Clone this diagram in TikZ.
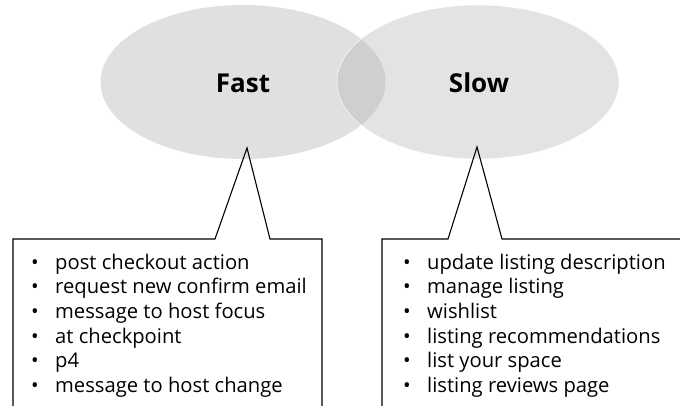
\documentclass[tikz,border=0pt]{standalone}
\usepackage{fontspec}
\setmainfont{Open Sans}
\definecolor{ellA}{HTML}{E0E0E0}
\definecolor{ellB}{HTML}{E3E2E4}
\definecolor{ellC}{HTML}{D0CED0}
\begin{document}
\begin{tikzpicture}[x=1pt,y=-1pt,
  vennlabel/.style={font=\fontsize{26}{30}\selectfont\bfseries, inner sep=0pt},
  listtext/.style={font=\fontsize{20.2}{24.7}\selectfont, align=left, inner sep=0pt, anchor=north west},
  callout/.style={draw=black, line width=1.1pt, line join=miter}]
\useasboundingbox (0,0) rectangle (680,405);
\begin{scope}
\clip (0,0) rectangle (680,405);
% ellipses
\fill[ellA] (243,82) ellipse [x radius=142.5, y radius=77];
\fill[ellB] (478,82) ellipse [x radius=141, y radius=77];
\begin{scope}
\clip (243,82) ellipse [x radius=142.5, y radius=77];
\fill[ellC] (478,82) ellipse [x radius=141, y radius=77];
\end{scope}
\draw[white, line width=0.5pt] (478,82) ellipse [x radius=141, y radius=77];
\node[vennlabel] (fast) at (243,83) {Fast};
\node[vennlabel] (slow) at (479,83) {Slow};
% callouts
\coordinate (ltip) at (247,148);
\coordinate (rtip) at (477,147);
\draw[callout] (13,420) -- (13,239) -- (215,239) -- (ltip) -- (270,239) -- (322,239) -- (322,420);
\draw[callout] (382,420) -- (382,239) -- (448,239) -- (rtip) -- (502,239) -- (700,239);
\node[listtext] (fastlist) at (31,253.5) {%
\makebox[24pt][l]{•}post checkout action\\
\makebox[24pt][l]{•}request new confirm email\\
\makebox[24pt][l]{•}message to host focus\\
\makebox[24pt][l]{•}at checkpoint\\
\makebox[24pt][l]{•}p4\\
\makebox[24pt][l]{•}message to host change};
\node[listtext] (slowlist) at (403,253.5) {%
\makebox[24pt][l]{•}update listing description\\
\makebox[24pt][l]{•}manage listing\\
\makebox[24pt][l]{•}wishlist\\
\makebox[24pt][l]{•}listing recommendations\\
\makebox[24pt][l]{•}list your space\\
\makebox[24pt][l]{•}listing reviews page};
\end{scope}
\end{tikzpicture}
\end{document}
